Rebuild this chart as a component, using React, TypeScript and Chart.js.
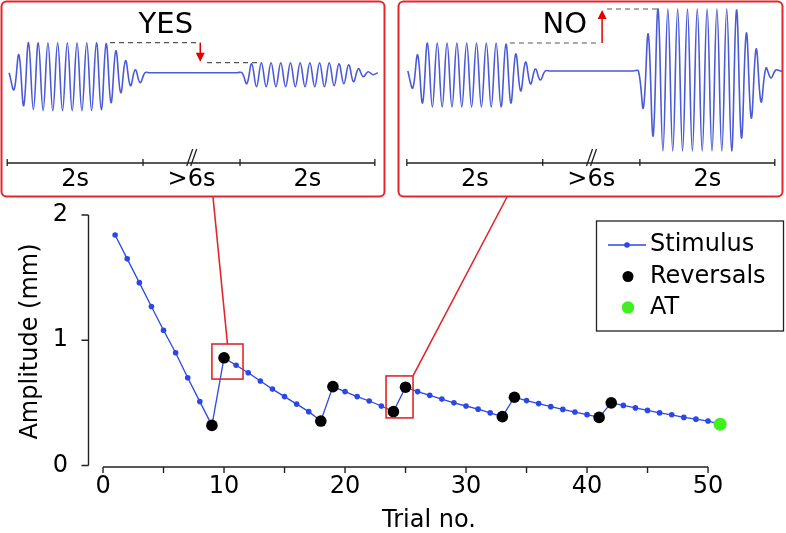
import React, { useEffect, useRef } from 'react';
import { Chart, registerables } from 'chart.js';

Chart.register(...registerables);

const FONT = "'DejaVu Sans', Verdana, sans-serif";

// ---------- main staircase data ----------
const trials = [
  1, 2, 3, 4, 5, 6, 7, 8, 9, 10, 11, 12, 13, 14, 15, 16, 17, 18, 19, 20,
  21, 22, 23, 24, 25, 26, 27, 28, 29, 30, 31, 32, 33, 34, 35, 36, 37, 38, 39, 40,
  41, 42, 43, 44, 45, 46, 47, 48, 49, 50, 51,
];
const stimulusAmplitude = [
  1.84, 1.65, 1.46, 1.27, 1.08, 0.9, 0.7, 0.51, 0.32, 0.86,
  0.8, 0.74, 0.675, 0.61, 0.55, 0.49, 0.43, 0.355, 0.63, 0.59,
  0.55, 0.515, 0.475, 0.43, 0.625, 0.59, 0.56, 0.53, 0.5, 0.475,
  0.45, 0.42, 0.39, 0.545, 0.518, 0.494, 0.47, 0.448, 0.427, 0.406,
  0.384, 0.5, 0.48, 0.46, 0.44, 0.42, 0.405, 0.384, 0.37, 0.355,
  0.33,
];
const reversalTrials = [9, 10, 18, 19, 24, 25, 33, 34, 41, 42];
const atTrial = 51;
const atAmplitude = 0.33;
const xTickValues = [0, 10, 20, 30, 40, 50];
const xTickMarks = [0, 5, 10, 15, 20, 25, 30, 35, 40, 45, 50];
const yTickValues = [0, 1, 2];
const legendLabels = ['Stimulus', 'Reversals', 'AT'];
// zoom boxes (trial / amplitude ranges)
const zoomBoxTrials = [[9.0, 11.57], [23.39, 25.62]];
const zoomBoxAmplitudes = [[0.69, 0.97], [0.38, 0.715]];

// ---------- inset waveforms (half-cycle peak values, a.u.) ----------
const yesWave = [
  0,
  -17, 18, -33, 30, -37, 30, -38, 30, -38, 30, -38, 30, -38, 30, -38, 30, -38, 30, -37, 29, -30, 22, -20, 12, -13, 3, -10,
  0, 0, 0, 0, 0, 0, 0, 0, 0, 0, 0, 0, 0, 0, 0, 0, 0, 0, 0, 0, 0,
  -11, 9, -14, 10, -14, 10, -14, 10, -14, 10, -14, 10, -14, 10, -14, 10, -14, 10, -13, 9, -11, 8, -9, 4, -4, 1, -2, 0,
];
const noWave = [
  0,
  -17, 16, -32, 28, -36, 28, -36, 28, -36, 28, -36, 28, -36, 28, -36, 28, -36, 28, -36, 27, -32, 17, -20, 9, -13, 2, -9,
  0, 0, 0, 0, 0, 0, 0, 0, 0, 0, 0, 0, 0, 0, 0, 0, 0, 0, 0, 0,
  -37, 37, -65, 62, -80, 62, -80, 62, -80, 62, -80, 62, -80, 62, -80, 62, -80, 62, -80, 61, -67, 38, -47, 22, -31, 3, -7, 1, 0, 0,
];
const insetTitles = ['YES', 'NO'];
const segmentLabels = ['2s', '>6s', '2s'];
// reference levels (first / second stimulus peak) for the dashed lines
const yesLevels = [30, 10];
const noLevels = [28, 62];

const RED = '#e3262a';
const BLUE = '#2b47e6';
const WAVE = '#4b5ad6';
const AXIS = '#222';

const mainDecor = {
  id: 'mainDecor',
  afterDraw(chart: any) {
    const { ctx, chartArea, scales } = chart;
    const x = scales.x;
    const y = scales.y;
    ctx.save();
    // spines
    ctx.strokeStyle = AXIS;
    ctx.lineWidth = 1.4;
    ctx.beginPath();
    const sx = chartArea.left;
    ctx.moveTo(sx, y.getPixelForValue(yTickValues[yTickValues.length - 1]));
    ctx.lineTo(sx, y.getPixelForValue(0));
    yTickValues.forEach((v) => {
      const p = y.getPixelForValue(v);
      ctx.moveTo(sx - 7, p);
      ctx.lineTo(sx, p);
    });
    const sy = chartArea.bottom - 1;
    ctx.moveTo(x.getPixelForValue(0), sy);
    ctx.lineTo(x.getPixelForValue(50), sy);
    xTickMarks.forEach((v) => {
      const p = x.getPixelForValue(v);
      ctx.moveTo(p, sy);
      ctx.lineTo(p, sy + 6);
    });
    ctx.stroke();

    // zoom boxes + connectors
    ctx.strokeStyle = RED;
    ctx.lineWidth = 1.6;
    const boxes = zoomBoxTrials.map((tr, i) => {
      const l = x.getPixelForValue(tr[0]);
      const r = x.getPixelForValue(tr[1]);
      const t = y.getPixelForValue(zoomBoxAmplitudes[i][1]);
      const b = y.getPixelForValue(zoomBoxAmplitudes[i][0]);
      ctx.strokeRect(l, t, r - l, b - t);
      return { l, r, t, b };
    });
    ctx.beginPath();
    ctx.moveTo(213, 197);
    ctx.lineTo((boxes[0].l + boxes[0].r) / 2, boxes[0].t);
    ctx.moveTo(507, 197);
    ctx.lineTo(boxes[1].r, boxes[1].t);
    ctx.stroke();

    // legend
    ctx.strokeStyle = AXIS;
    ctx.lineWidth = 1.3;
    ctx.strokeRect(596.5, 221, 187, 110);
    const rows = [245, 276.5, 307.5];
    ctx.strokeStyle = BLUE;
    ctx.lineWidth = 1.4;
    ctx.beginPath();
    ctx.moveTo(608, rows[0]);
    ctx.lineTo(646, rows[0]);
    ctx.stroke();
    ctx.fillStyle = BLUE;
    ctx.beginPath();
    ctx.arc(627, rows[0], 2.8, 0, Math.PI * 2);
    ctx.fill();
    ctx.fillStyle = '#000';
    ctx.beginPath();
    ctx.arc(628, rows[1], 5.5, 0, Math.PI * 2);
    ctx.fill();
    ctx.fillStyle = '#3ff01f';
    ctx.beginPath();
    ctx.arc(628, rows[2], 6.2, 0, Math.PI * 2);
    ctx.fill();
    ctx.fillStyle = '#000';
    ctx.font = `24px ${FONT}`;
    ctx.textAlign = 'left';
    ctx.textBaseline = 'middle';
    legendLabels.forEach((s, i) => ctx.fillText(s, 650, rows[i]));
    ctx.restore();
  },
};

type InsetCfg = {
  title: string;
  titleAt: number;
  levels: number[];
  dash1: number[];
  dash2: number[];
  arrowAt: number;
  bounds: number[];
  breakAt: number;
  box: number[];
};

function insetDecor(cfg: InsetCfg) {
  return {
    id: 'insetDecor',
    afterDraw(chart: any) {
      const { ctx, scales } = chart;
      const x = scales.x;
      const y = scales.y;
      const px = (v: number) => x.getPixelForValue(v);
      ctx.save();
      // frame
      ctx.strokeStyle = RED;
      ctx.lineWidth = 2;
      ctx.beginPath();
      ctx.roundRect(cfg.box[0], cfg.box[1], cfg.box[2], cfg.box[3], 5);
      ctx.stroke();
      // title
      ctx.fillStyle = '#000';
      ctx.font = `29px ${FONT}`;
      ctx.textAlign = 'center';
      ctx.textBaseline = 'middle';
      ctx.fillText(cfg.title, px(cfg.titleAt), 25);
      // dashed reference lines
      const l1 = y.getPixelForValue(cfg.levels[0]);
      const l2 = y.getPixelForValue(cfg.levels[1]);
      ctx.strokeStyle = '#555';
      ctx.lineWidth = 1.2;
      ctx.setLineDash([5, 4]);
      ctx.beginPath();
      ctx.moveTo(px(cfg.dash1[0]), l1);
      ctx.lineTo(px(cfg.dash1[1]), l1);
      ctx.moveTo(px(cfg.dash2[0]), l2);
      ctx.lineTo(px(cfg.dash2[1]), l2);
      ctx.stroke();
      ctx.setLineDash([]);
      // arrow
      const ax = px(cfg.arrowAt);
      const dir = l2 > l1 ? 1 : -1;
      const tip = l2 - dir * 1;
      ctx.strokeStyle = '#e00000';
      ctx.fillStyle = '#e00000';
      ctx.lineWidth = 1.5;
      ctx.beginPath();
      ctx.moveTo(ax, l1);
      ctx.lineTo(ax, tip - dir * 7);
      ctx.stroke();
      ctx.beginPath();
      ctx.moveTo(ax, tip);
      ctx.lineTo(ax - 4.5, tip - dir * 9);
      ctx.lineTo(ax + 4.5, tip - dir * 9);
      ctx.closePath();
      ctx.fill();
      // time axis
      const ty = 163;
      ctx.strokeStyle = AXIS;
      ctx.lineWidth = 1.3;
      ctx.beginPath();
      ctx.moveTo(px(cfg.bounds[0]), ty);
      ctx.lineTo(px(cfg.bounds[cfg.bounds.length - 1]), ty);
      cfg.bounds.forEach((b) => {
        ctx.moveTo(px(b), ty - 4);
        ctx.lineTo(px(b), ty + 3);
      });
      const bx = px(cfg.breakAt);
      ctx.moveTo(bx - 5.3, 166);
      ctx.lineTo(bx + 0.7, 149);
      ctx.moveTo(bx - 1.3, 166);
      ctx.lineTo(bx + 4.7, 149);
      ctx.stroke();
      ctx.fillStyle = '#000';
      ctx.font = `24px ${FONT}`;
      segmentLabels.forEach((s, i) => {
        const cx = (px(cfg.bounds[i]) + px(cfg.bounds[i + 1])) / 2;
        ctx.fillText(s, cx, 180);
      });
      ctx.restore();
    },
  };
}

function insetConfig(wave: number[], cfg: InsetCfg, xr: number[], yr: number[], pad: any): any {
  return {
    type: 'line',
    data: {
      datasets: [
        {
          data: wave.map((v, j) => ({ x: j, y: v })),
          borderColor: WAVE,
          borderWidth: 1.6,
          pointRadius: 0,
          tension: 0.4,
          fill: false,
        },
      ],
    },
    options: {
      responsive: false,
      animation: false,
      devicePixelRatio: 1,
      events: [],
      layout: { padding: pad },
      scales: {
        x: { type: 'linear', display: false, min: xr[0], max: xr[1] },
        y: { type: 'linear', display: false, min: yr[0], max: yr[1] },
      },
      plugins: { legend: { display: false }, tooltip: { enabled: false } },
    },
    plugins: [insetDecor(cfg)],
  };
}

function mainConfig(): any {
  const stim = trials.map((t, i) => ({ x: t, y: stimulusAmplitude[i] }));
  const rev = reversalTrials.map((t) => ({ x: t, y: stimulusAmplitude[trials.indexOf(t)] }));
  return {
    type: 'scatter',
    data: {
      datasets: [
        {
          label: legendLabels[2],
          data: [{ x: atTrial, y: atAmplitude }],
          backgroundColor: '#3ff01f',
          borderWidth: 0,
          pointRadius: 6.5,
          order: 0,
        },
        {
          label: legendLabels[1],
          data: rev,
          backgroundColor: '#000',
          borderWidth: 0,
          pointRadius: 5.8,
          order: 1,
        },
        {
          label: legendLabels[0],
          data: stim,
          showLine: true,
          borderColor: BLUE,
          backgroundColor: BLUE,
          borderWidth: 1.3,
          pointRadius: 2.8,
          pointBorderWidth: 0,
          order: 2,
        },
      ],
    },
    options: {
      responsive: false,
      animation: false,
      devicePixelRatio: 1,
      events: [],
      layout: { padding: { top: 215, left: 0, right: 16.5, bottom: 0 } },
      plugins: { legend: { display: false }, tooltip: { enabled: false } },
      scales: {
        x: {
          type: 'linear',
          min: -1.2,
          max: 55.08,
          grid: { display: false, drawTicks: false },
          border: { display: false },
          afterBuildTicks: (s: any) => {
            s.ticks = xTickValues.map((v) => ({ value: v }));
          },
          afterFit: (s: any) => {
            s.height = 65;
          },
          ticks: { padding: 4.6, color: '#000', font: { size: 24, family: FONT }, maxRotation: 0, autoSkip: false },
          title: {
            display: true,
            text: 'Trial no.',
            color: '#000',
            font: { size: 24, family: FONT, lineHeight: 1 },
            padding: { top: 0, bottom: 0 },
          },
        },
        y: {
          type: 'linear',
          min: -0.02,
          max: 2,
          grid: { display: false, drawTicks: false },
          border: { display: false },
          afterBuildTicks: (s: any) => {
            s.ticks = yTickValues.map((v) => ({ value: v }));
          },
          afterFit: (s: any) => {
            s.width = 88.5;
          },
          ticks: { padding: 20.5, color: '#000', font: { size: 24, family: FONT } },
          title: {
            display: true,
            text: 'Amplitude (mm)',
            color: '#000',
            font: { size: 24, family: FONT },
            padding: { top: 16.6, bottom: 0 },
          },
        },
      },
    },
    plugins: [mainDecor],
  };
}

const yesCfg: InsetCfg = {
  title: insetTitles[0],
  titleAt: 32.3,
  levels: yesLevels,
  dash1: [20.8, 39.4],
  dash2: [40.8, 51.1],
  arrowAt: 39.4,
  bounds: [-0.4, 27.6, 47.6, 75.4],
  breakAt: 37.7,
  box: [1.5, 1.5, 383, 195],
};
const noCfg: InsetCfg = {
  title: insetTitles[1],
  titleAt: 32.0,
  levels: noLevels,
  dash1: [20.8, 39.2],
  dash2: [40.6, 50.8],
  arrowAt: 39.6,
  bounds: [-0.2, 27.5, 47.3, 74.8],
  breakAt: 37.5,
  box: [398.5, 1.5, 384, 195],
};

export default function App() {
  const mainRef = useRef<HTMLCanvasElement>(null);
  const yesRef = useRef<HTMLCanvasElement>(null);
  const noRef = useRef<HTMLCanvasElement>(null);

  useEffect(() => {
    const charts = [
      new Chart(mainRef.current as HTMLCanvasElement, mainConfig()),
      new Chart(
        yesRef.current as HTMLCanvasElement,
        insetConfig(yesWave, yesCfg, [-1.68, 77.49], [-124.3, 72.7], { left: 1, top: 0, right: 401, bottom: 336 })
      ),
      new Chart(
        noRef.current as HTMLCanvasElement,
        insetConfig(noWave, noCfg, [-2.0, 76.47], [-126, 71], { left: 398, top: 0, right: 3, bottom: 336 })
      ),
    ];
    return () => charts.forEach((c) => c.destroy());
  }, []);

  const cs: React.CSSProperties = { position: 'absolute', left: 0, top: 0 };
  return (
    <div style={{ position: 'fixed', left: 0, top: 0, width: 786, height: 533, background: '#fff' }}>
      <canvas ref={mainRef} width={786} height={533} style={cs} />
      <canvas ref={yesRef} width={786} height={533} style={cs} />
      <canvas ref={noRef} width={786} height={533} style={cs} />
    </div>
  );
}
